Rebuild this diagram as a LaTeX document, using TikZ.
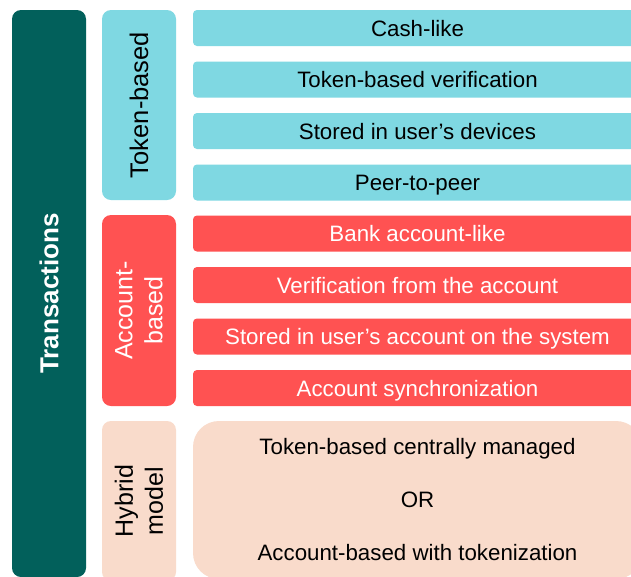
\documentclass[tikz,border=0pt]{standalone}
\usepackage{fontspec}
\setmainfont{Liberation Sans}
\definecolor{teal}{HTML}{02605B}
\definecolor{cyanbox}{HTML}{7FD8E2}
\definecolor{redbox}{HTML}{FF5252}
\definecolor{peach}{HTML}{F9DBCB}
\tikzset{
  rowbox/.style={rectangle, rounded corners=4pt, minimum width=449pt, minimum height=36pt, inner sep=0pt, text height=16pt, text depth=0pt, font=\fontsize{22.3}{26}\selectfont},
  tokrow/.style={rowbox, fill=cyanbox, text=black},
  accrow/.style={rowbox, fill=redbox, text=white},
  lblbox/.style={rectangle, rounded corners=9pt, rotate=90, minimum width=#1, minimum height=74pt, inner sep=0pt, align=center, font=\fontsize{25}{30}\selectfont},
}
\begin{document}
\begin{tikzpicture}[x=1pt,y=-1pt]
\clip (0,0) rectangle (631,576);
\fill[white] (0,0) rectangle (631,576);
% main bar
\node[lblbox=567pt, fill=teal, text=white, font=\fontsize{26}{30}\selectfont\bfseries] (trans) at (49,293.5) {Transactions};
% labels
\node[lblbox=190pt, fill=cyanbox, text=black, font=\fontsize{25.5}{30}\selectfont] (tok) at (139,105) {Token-based};
\node[lblbox=191pt, fill=redbox, text=white] (acc) at (139,310.5) {Account-\\based};
\node[lblbox=160pt, fill=peach, text=black] (hyb) at (139,501) {Hybrid\\model};
% token rows
\node[tokrow] (t1) at (417.5,28) {Cash-like};
\node[tokrow] (t2) at (417.5,79.5) {Token-based verification};
\node[tokrow] (t3) at (417.5,131) {Stored in user’s devices};
\node[tokrow] (t4) at (417.5,182.5) {Peer-to-peer};
% account rows
\node[accrow] (a1) at (417.5,233.5) {Bank account-like};
\node[accrow] (a2) at (417.5,285) {Verification from the account};
\node[accrow] (a3) at (417.5,336.5) {Stored in user’s account on the system};
\node[accrow] (a4) at (417.5,388) {Account synchronization};
% hybrid content
\node[rectangle, rounded corners=26pt, fill=peach, minimum width=449pt, minimum height=158pt, inner sep=0pt, align=center, font=\fontsize{22.3}{53}\selectfont] (h1) at (417.5,500) {Token-based centrally managed\\OR\\Account-based with tokenization};
\end{tikzpicture}
\end{document}
